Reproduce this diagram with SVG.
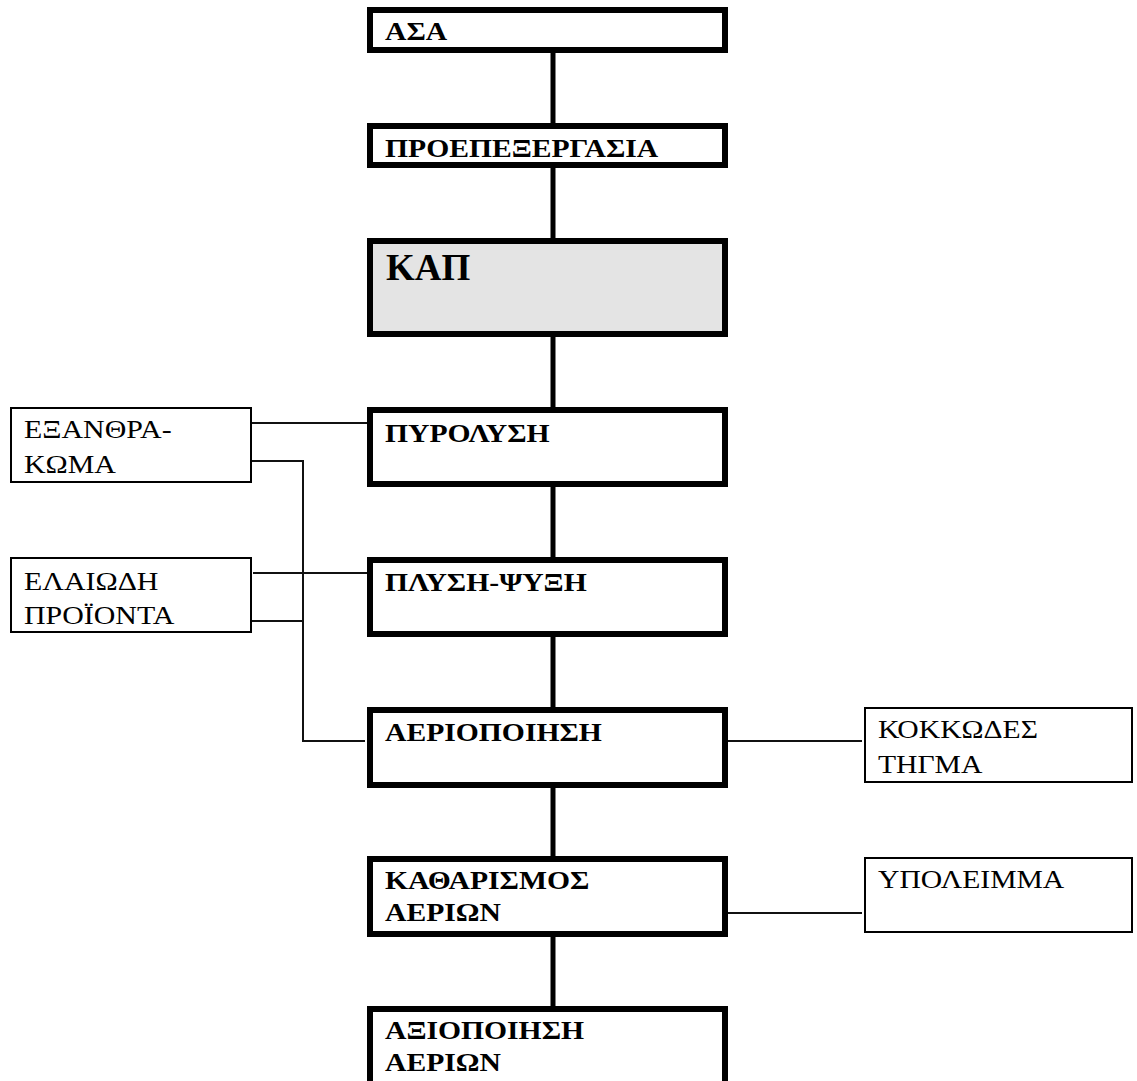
<svg xmlns="http://www.w3.org/2000/svg" width="1137" height="1081" viewBox="0 0 1137 1081">
  <style>
    .main { fill: #ffffff; stroke: #000000; stroke-width: 6; }
    .shade { fill: #e4e4e4; }
    .side { fill: #ffffff; stroke: #000000; stroke-width: 2; }
    .bold { font-family: "Liberation Serif", "Times New Roman", serif; font-weight: bold; font-size: 26px; fill: #000000; }
    .big { font-size: 37px; }
    .reg { font-family: "Liberation Serif", "Times New Roman", serif; font-size: 26px; fill: #000000; }
    .trunk { stroke: #000000; stroke-width: 5; fill: none; }
    .branch { stroke: #111111; stroke-width: 2; fill: none; }
  </style>
  <rect width="1137" height="1081" fill="#ffffff"/>

  <!-- connectors -->
  <g id="connectors">
    <line class="trunk" x1="553" y1="53" x2="553" y2="123"/>
    <line class="trunk" x1="553" y1="168" x2="553" y2="238"/>
    <line class="trunk" x1="553" y1="337" x2="553" y2="407"/>
    <line class="trunk" x1="553" y1="487" x2="553" y2="557"/>
    <line class="trunk" x1="553" y1="637" x2="553" y2="707"/>
    <line class="trunk" x1="553" y1="788" x2="553" y2="856"/>
    <line class="trunk" x1="553" y1="937" x2="553" y2="1006"/>
    <path class="branch" d="M249 423 H367"/>
    <path class="branch" d="M246 461 H303 V741 H365"/>
    <path class="branch" d="M253 573 H367"/>
    <path class="branch" d="M247 621 H303"/>
    <path class="branch" d="M727 741 H862"/>
    <path class="branch" d="M727 913 H862"/>
  </g>

  <!-- process chain (labels are set slightly wide: matrix scales x by 1.14) -->
  <g id="node-asa">
    <rect class="main" x="370" y="10" width="355" height="40"/>
    <text class="bold" transform="matrix(1.14 0 0 1 385 40)">ΑΣΑ</text>
  </g>
  <g id="node-proepeksergasia">
    <rect class="main" x="370" y="126" width="355" height="39"/>
    <text class="bold" transform="matrix(1.14 0 0 1 385 157)">ΠΡΟΕΠΕΞΕΡΓΑΣΙΑ</text>
  </g>
  <g id="node-kap">
    <rect class="main shade" x="370" y="241" width="355" height="93"/>
    <text class="bold big" x="386" y="280">ΚΑΠ</text>
  </g>
  <g id="node-pyrolysi">
    <rect class="main" x="370" y="410" width="355" height="74"/>
    <text class="bold" transform="matrix(1.14 0 0 1 385 442)">ΠΥΡΟΛΥΣΗ</text>
  </g>
  <g id="node-plysi-psyksi">
    <rect class="main" x="370" y="560" width="355" height="74"/>
    <text class="bold" transform="matrix(1.14 0 0 1 385 591)">ΠΛΥΣΗ-ΨΥΞΗ</text>
  </g>
  <g id="node-aeriopoiisi">
    <rect class="main" x="370" y="710" width="355" height="75"/>
    <text class="bold" transform="matrix(1.14 0 0 1 385 741)">ΑΕΡΙΟΠΟΙΗΣΗ</text>
  </g>
  <g id="node-katharismos">
    <rect class="main" x="370" y="859" width="355" height="75"/>
    <text class="bold" transform="matrix(1.14 0 0 1 385 889)">ΚΑΘΑΡΙΣΜΟΣ</text>
    <text class="bold" transform="matrix(1.14 0 0 1 385 921)">ΑΕΡΙΩΝ</text>
  </g>
  <g id="node-aksiopoiisi">
    <rect class="main" x="370" y="1009" width="355" height="100"/>
    <text class="bold" transform="matrix(1.14 0 0 1 385 1039)">ΑΞΙΟΠΟΙΗΣΗ</text>
    <text class="bold" transform="matrix(1.14 0 0 1 385 1071)">ΑΕΡΙΩΝ</text>
  </g>

  <!-- by-products -->
  <g id="node-eksanthrakoma">
    <rect class="side" x="11" y="408" width="240" height="74"/>
    <text class="reg" transform="matrix(1.15 0 0 1 24 438)">ΕΞΑΝΘΡΑ-</text>
    <text class="reg" transform="matrix(1.15 0 0 1 24 473)">ΚΩΜΑ</text>
  </g>
  <g id="node-elaiodi">
    <rect class="side" x="11" y="558" width="240" height="74"/>
    <text class="reg" transform="matrix(1.15 0 0 1 24 590)">ΕΛΑΙΩΔΗ</text>
    <text class="reg" transform="matrix(1.15 0 0 1 24 624)">ΠΡΟΪΟΝΤΑ</text>
  </g>
  <g id="node-kokkodes">
    <rect class="side" x="865" y="708" width="267" height="74"/>
    <text class="reg" transform="matrix(1.14 0 0 1 878 738)">ΚΟΚΚΩΔΕΣ</text>
    <text class="reg" transform="matrix(1.14 0 0 1 878 773)">ΤΗΓΜΑ</text>
  </g>
  <g id="node-ypoleimma">
    <rect class="side" x="865" y="858" width="267" height="74"/>
    <text class="reg" transform="matrix(1.14 0 0 1 878 888)">ΥΠΟΛΕΙΜΜΑ</text>
  </g>
</svg>
